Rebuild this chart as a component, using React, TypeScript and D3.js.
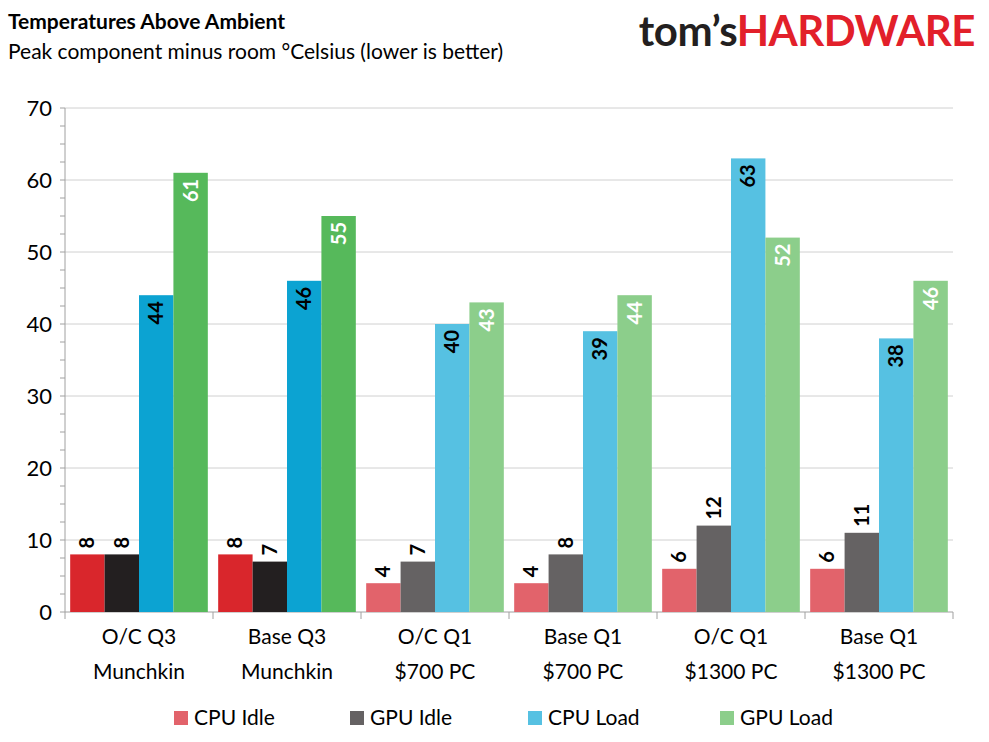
import * as d3 from "d3";

const categories = [
  ["O/C Q3", "Munchkin"],
  ["Base Q3", "Munchkin"],
  ["O/C Q1", "$700 PC"],
  ["Base Q1", "$700 PC"],
  ["O/C Q1", "$1300 PC"],
  ["Base Q1", "$1300 PC"],
];
const seriesNames = ["CPU Idle", "GPU Idle", "CPU Load", "GPU Load"];
const cpuIdle = [8, 8, 4, 4, 6, 6];
const gpuIdle = [8, 7, 7, 8, 12, 11];
const cpuLoad = [44, 46, 40, 39, 63, 38];
const gpuLoad = [61, 55, 43, 44, 52, 46];
const yTicks = [0, 10, 20, 30, 40, 50, 60, 70];

// first two groups are highlighted with saturated colours
const strong = ["#d9262c", "#231f20", "#0ca3d2", "#56b95b"];
const soft = ["#e2636b", "#656263", "#56c1e2", "#8cce8b"];

const W = 989, H = 742;
const left = 65, right = 953, top = 108, bottom = 612;
const font = "Lato, 'Open Sans', sans-serif";

export default function App() {
  const series = [cpuIdle, gpuIdle, cpuLoad, gpuLoad];
  const y = d3.scaleLinear().domain([0, 70]).range([bottom, top]);
  const x0 = d3.scaleBand<number>().domain(d3.range(categories.length)).range([left, right]).paddingInner(0.07).paddingOuter(0.035);
  const x1 = d3.scaleBand<number>().domain(d3.range(4)).range([0, x0.bandwidth()]);
  const minor = d3.range(0, 70.01, 2.5);
  const groupEdges = d3.range(categories.length + 1).map((i) => left + (i * (right - left)) / categories.length);

  return (
    <svg width={W} height={H} style={{ position: "absolute", left: 0, top: 0, background: "#fff" }} fontFamily={font}>
      <text x={8} y={29} fontSize={21} fontWeight="bold">Temperatures Above Ambient</text>
      <text x={8} y={59} fontSize={21}>Peak component minus room °Celsius (lower is better)</text>
      <text x={975} y={46} fontSize={42} fontWeight="bold" textAnchor="end" letterSpacing={-0.5}>
        <tspan fill="#231f20">tom’s</tspan>
        <tspan fill="#e2202a">HARDWARE</tspan>
      </text>

      {yTicks.map((t) => (
        <g key={t}>
          {t > 0 && <line x1={left} x2={right} y1={y(t)} y2={y(t)} stroke="#d0d0d0" />}
          <text x={52} y={y(t) + 8} fontSize={22} textAnchor="end">{t}</text>
        </g>
      ))}
      {minor.map((t) => (
        <line key={t} x1={left - 5} x2={left} y1={y(t)} y2={y(t)} stroke="#a0a0a0" />
      ))}
      <line x1={left} x2={left} y1={top} y2={bottom} stroke="#a0a0a0" />
      <line x1={left} x2={right} y1={bottom} y2={bottom} stroke="#a0a0a0" />
      {groupEdges.map((gx, i) => (
        <line key={i} x1={gx} x2={gx} y1={bottom} y2={bottom + 7} stroke="#a0a0a0" />
      ))}

      {categories.map((cat, gi) => (
        <g key={gi} transform={`translate(${x0(gi)},0)`}>
          {series.map((s, si) => {
            const v = s[gi];
            const bx = x1(si)!;
            const bw = x1.bandwidth();
            const cx = bx + bw / 2;
            const inside = si >= 2;
            const ly = inside ? y(v) + 6 : y(v) - 6;
            return (
              <g key={si}>
                <rect x={bx} y={y(v)} width={bw} height={bottom - y(v)} fill={(gi < 2 ? strong : soft)[si]} />
                <text
                  transform={`translate(${cx + 7},${ly}) rotate(-90)`}
                  fontSize={20}
                  fontWeight="bold"
                  textAnchor={inside ? "end" : "start"}
                  fill={inside && si === 3 && gi >= 2 ? "#fff" : inside && si === 3 ? "#fff" : "#000"}
                >
                  {v}
                </text>
              </g>
            );
          })}
          <text x={x0.bandwidth() / 2} y={644} fontSize={21} textAnchor="middle">{cat[0]}</text>
          <text x={x0.bandwidth() / 2} y={679} fontSize={21} textAnchor="middle">{cat[1]}</text>
        </g>
      ))}

      {seriesNames.map((n, i) => {
        const lx = [174, 350, 528, 720][i];
        return (
          <g key={n}>
            <rect x={lx} y={711} width={14} height={14} fill={soft[i]} />
            <text x={lx + 20} y={725} fontSize={21}>{n}</text>
          </g>
        );
      })}
    </svg>
  );
}
